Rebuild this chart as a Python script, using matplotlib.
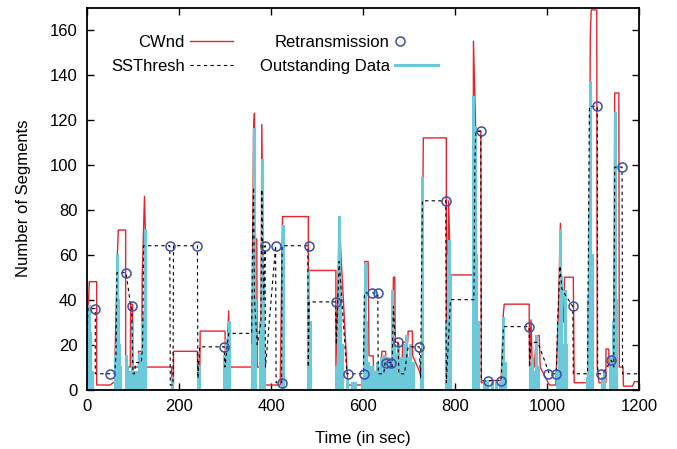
import numpy as np
import matplotlib
matplotlib.use('Agg')
import matplotlib.pyplot as plt
from matplotlib.legend_handler import HandlerLine2D

plt.rcParams['font.family'] = ['Liberation Sans', 'DejaVu Sans']
plt.rcParams['font.size'] = 12

# congestion window (time, segments)
cwnd_t = [0, 1, 3, 5, 21, 21, 50, 57, 60, 61, 66, 68, 84, 84, 94, 95, 99, 99, 112, 112, 119, 120, 125, 127, 128,
          184, 184, 188, 188, 240, 241, 245, 246, 300, 301, 305, 308, 310, 358, 360, 362, 364, 366, 369, 370, 378,
          380, 383, 387, 420, 424, 425, 481, 481, 483, 541, 541, 545, 548, 552, 567, 602, 604, 611, 613, 622, 623,
          638, 641, 649, 650, 664, 666, 669, 670, 676, 677, 685, 686, 697, 698, 707, 708, 725, 727, 729, 731, 781,
          781, 786, 790, 839, 840, 845, 856, 857, 880, 900, 903, 905, 907, 961, 962, 965, 968, 972, 977, 983, 985,
          1005, 1019, 1024, 1029, 1032, 1036, 1038, 1057, 1059, 1088, 1092, 1094, 1096, 1108, 1109, 1113, 1128,
          1128, 1134, 1135, 1145, 1147, 1156, 1157, 1165, 1166, 1186, 1190, 1200]
cwnd_v = [18, 22, 38, 48, 48, 2, 2, 3, 3, 15, 60, 71, 71, 10, 10, 38, 38, 10, 10, 17, 17, 50, 86, 70, 10,
          10, 2, 2, 17, 17, 2, 2, 26, 26, 10, 20, 35, 10, 10, 60, 116, 123, 67, 67, 10, 10,
          118, 60, 2, 2, 60, 77, 77, 10, 53, 53, 10, 40, 77, 60, 2, 2, 57, 57, 15, 15, 8,
          8, 17, 17, 10, 10, 50, 50, 21, 21, 10, 10, 21, 21, 26, 26, 15, 7, 2, 60, 112, 112,
          10, 84, 51, 51, 155, 115, 115, 3, 4, 4, 20, 34, 38, 38, 10, 31, 10, 10, 24, 24, 10,
          2, 2, 30, 74, 40, 30, 50, 50, 3, 3, 80, 158, 169, 169, 10, 3, 3,
          18, 18, 10, 10, 132, 132, 10, 10, 1.5, 1.5, 3.5, 3.5]

# slow start threshold
ssth_t = [0, 2, 18, 18, 50, 60, 63, 65, 85, 95, 97, 100, 103, 106, 118, 121, 123, 180, 181, 187, 188, 240, 241,
          245, 298, 300, 305, 308, 358, 360, 362, 364, 370, 378, 380, 384, 387, 388, 410, 411, 423, 424, 480, 481,
          483, 540, 542, 548, 565, 601, 603, 632, 633, 645, 648, 661, 663, 666, 670, 676, 678, 690, 698, 722, 725,
          729, 780, 781, 790, 841, 843, 845, 856, 857, 900, 903, 905, 961, 962, 965, 980, 1005, 1020, 1023, 1028,
          1032, 1040, 1056, 1057, 1088, 1092, 1109, 1110, 1121, 1130, 1140, 1145, 1147, 1163, 1164, 1200]
ssth_v = [20, 36, 36, 7, 7, 7, 15, 52, 52, 37, 37, 7, 7, 12, 12, 20, 64, 64, 2, 2, 64, 64, 5,
          19, 19, 10, 20, 25, 25, 70, 90, 40, 20, 30, 89, 40, 64, 10, 64, 3, 3, 64, 64, 10,
          39, 39, 20, 57, 7, 7, 43, 43, 7, 7, 12, 12, 10, 37, 21, 21, 7, 7, 19, 19, 5,
          84, 84, 3, 40, 40, 100, 115, 115, 4, 4, 15, 28, 28, 10, 21, 21, 7, 7, 30, 55,
          45, 42, 37, 7, 7, 126, 126, 7, 7, 10, 13, 10, 99, 99, 7, 7]

# retransmission events
retx_t = [18, 50, 85, 97, 180, 240, 298, 387, 410, 423, 482, 541, 568, 603, 620, 632, 649, 661, 676, 722,
          780, 856, 871, 900, 961, 1001, 1020, 1056, 1109, 1118, 1140, 1163]
retx_v = [36, 7, 52, 37, 64, 64, 19, 64, 64, 3, 64, 39, 7, 7, 43, 43, 12, 12, 21, 19,
          84, 115, 4, 4, 28, 7, 7, 37, 126, 7, 13, 99]

# outstanding data bursts
out_t = [1, 3, 5, 7, 10, 60, 62, 64, 66, 68, 70, 72, 85, 88, 91, 97, 102, 106, 113, 116, 120, 123, 126, 184,
         241, 244, 298, 302, 306, 309, 358, 360, 362, 364, 366, 377, 380, 382, 385, 424, 426, 481, 484,
         542, 545, 548, 551, 554, 566, 575, 582, 597, 601, 604, 606, 610,
         616, 620, 625, 630, 634, 640, 645, 650, 655, 660, 664, 667, 672, 677, 682, 688, 693, 698, 703, 708,
         726, 729, 781, 784, 787, 790, 838, 840, 843, 846, 850, 862, 870, 880, 890, 897, 902, 905, 908,
         962, 967, 972, 977, 980, 1022, 1025, 1028, 1031, 1035, 1039, 1042, 1087, 1090, 1092, 1094, 1097,
         1120, 1123, 1136, 1140, 1143, 1147, 1150]
out_v = [21, 30, 37, 25, 8, 15, 12, 20, 60, 40, 20, 10, 15, 10, 8, 30, 8, 8, 16, 14, 30, 33, 71, 5,
         8, 10, 15, 22, 25, 30, 20, 60, 116, 105, 40, 30, 102, 50, 10, 20, 73, 53, 30,
         10, 30, 77, 50, 20, 4, 3, 3, 5, 15, 56, 30, 12,
         10, 10, 8, 12, 10, 14, 15, 12, 14, 12, 44, 20, 16, 20, 14, 20, 24, 14, 20, 12,
         10, 94, 30, 60, 66, 50, 40, 130, 117, 60, 30, 3, 4, 3, 3, 3, 10, 32, 12,
         10, 14, 8, 24, 10, 8, 30, 71, 50, 20, 44, 20, 5, 40, 78, 137, 60,
         5, 8, 10, 14, 30, 123, 40]

# spikes as one line going up and back down
ot = np.repeat(out_t, 3).astype(float)
ov = np.zeros(len(ot))
ov[1::3] = out_v


class LeftMarker(HandlerLine2D):
    # gnuplot puts the point at the start of the sample slot
    def get_xdata(self, legend, xdescent, ydescent, width, height, fontsize):
        x0 = -xdescent
        return [x0, x0 + 0.24 * width], [x0 + 0.12 * width]


fig = plt.figure(figsize=(6.77, 4.49), dpi=100)
ax = fig.add_axes([0.1285, 0.1325, 0.8155, 0.8505])

l1, = ax.plot(cwnd_t, cwnd_v, color='#e8242c', lw=1.0, label='CWnd')
l4, = ax.plot(ot, ov, color='#6cc9d9', lw=2.2, label='Outstanding Data')
l2, = ax.plot(ssth_t, ssth_v, color='black', lw=0.8, ls=(0, (3, 3)), label='SSThresh')
l3, = ax.plot(retx_t, retx_v, ls='none', marker='o', ms=6.5, mfc='none', mec='#3a4fb0', mew=1.1,
              label='Retransmission')

ax.set_xlim(0, 1200)
ax.set_ylim(0, 170)
ax.set_xticks(range(0, 1201, 200))
ax.set_yticks(range(0, 161, 20))
ax.tick_params(direction='in', top=True, right=True, length=5, width=1, labelsize=12, pad=7)
for s in ax.spines.values():
    s.set_linewidth(1.3)

ax.set_xlabel('Time (in sec)', fontsize=12, labelpad=12)
ax.set_ylabel('Number of Segments', fontsize=12, labelpad=13)

ax.legend([l1, l2, l3, l4], ['CWnd', 'SSThresh', 'Retransmission', 'Outstanding Data'],
          handler_map={l3: LeftMarker()},
          ncol=2, markerfirst=False, frameon=False, numpoints=1, handlelength=2.6, handletextpad=0.3,
          columnspacing=1.6, labelspacing=0.55, borderpad=0, borderaxespad=0,
          loc='upper left', bbox_to_anchor=(111 / 677, 1 - 35 / 449), bbox_transform=fig.transFigure)

plt.savefig('out.png', dpi=100)
